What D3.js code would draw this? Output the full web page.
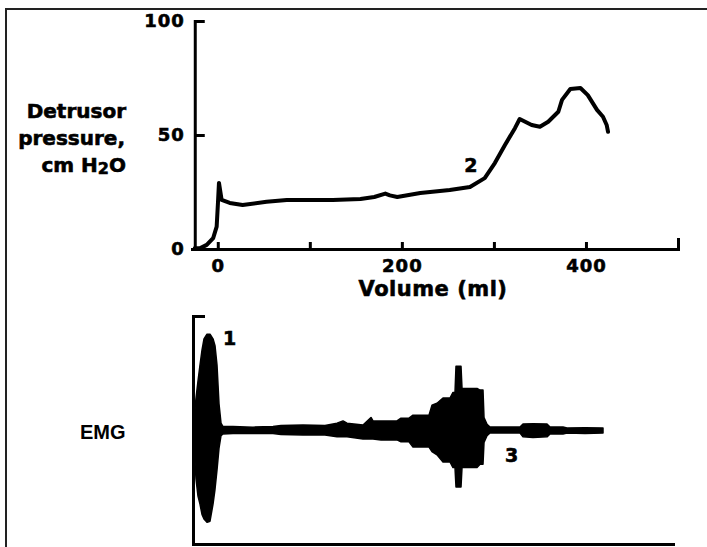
<!DOCTYPE html>
<html>
<head>
<meta charset="utf-8">
<script src="https://cdn.jsdelivr.net/npm/d3@7"></script>
<style>
  body { margin: 0; background: #fff; }
  svg { display: block; }
  .heavy { stroke: #000; stroke-width: 0.6px; }
</style>
</head>
<body>
<svg id="chart"></svg>
<script>
// detrusor pressure trace (volume in ml, pressure in cm H2O)
var volume = [-25, -19, -12, -5, -1.2, 0.2, 1.3, 4.2, 13, 27, 53, 75, 125, 155, 170, 182, 187,
  195, 220, 252, 274, 290, 301, 312, 323, 328, 341, 350, 359, 370, 374, 383, 394, 402, 412,
  418.5, 422.5, 424];
var pressure = [0.3, 0.4, 1.8, 4.8, 9.8, 20.2, 29, 21.5, 20.2, 19.3, 20.7, 21.5, 21.5, 21.9, 22.8, 24.3, 23.5,
  22.8, 24.6, 25.9, 27.2, 31.1, 37.7, 45.6, 53.1, 57, 54.4, 53.6, 55.8, 60.2, 65.4, 70.2, 70.6, 67.5, 61,
  58, 54.4, 51.4];
var xTicks = [0, 100, 200, 300, 400, 500];
var xLabels = [0, 200, 400];
var yTicks = [0, 50, 100];

// EMG envelope (time in s, upper and lower amplitude)
var emgTime = [0, 0.5, 1.5, 2.5, 3.5, 4.5, 5.5, 7, 8.5, 10, 11, 12, 13, 14, 15, 20, 30, 40, 44, 55, 66,
  72, 75, 77, 85, 89, 90, 94, 102, 104, 108, 110, 118, 119.5, 122, 125, 128.5, 130, 131, 131.5, 134,
  134.5, 142, 143.5, 145, 145.5, 147, 148.5, 163.5, 165, 170, 177, 178.5, 185, 187, 196, 205];
var emgUpper = [3, 8.7, 28, 43, 57, 70, 80, 84, 84, 80, 74, 57, 23, 6, 3, 3, 2.5, 3, 4, 4.3, 4,
  6, 8, 6, 4.3, 11, 8, 8, 8, 10.4, 10.4, 13, 13, 21.7, 23.5, 28, 28, 33, 33, 56, 56,
  36.5, 36.5, 35, 35, 11, 5, 2.6, 2.6, 5.2, 5.5, 5.2, 2.6, 2.6, 1.7, 2, 1.7];
var emgLower = [-3, -13, -43, -58, -65, -74, -78, -81, -80, -65, -52, -35, -16, -5, -3.5, -3, -3, -3, -4, -4.3, -4.3,
  -6, -6, -6, -7.8, -8, -8, -8.7, -8.7, -10.4, -10.4, -15, -15, -19, -21.7, -28, -28, -33, -33, -50, -50,
  -33, -33, -30, -30, -11, -5, -2.6, -2.6, -6, -6.5, -6, -3.5, -3.5, -2.6, -3, -2.6];

var width = 707, height = 547;
var ink = "#000";
var numFont = "DejaVu Sans";

var svg = d3.select("#chart").attr("width", width).attr("height", height);

// frame (only top and left edges fall inside the picture)
svg.append("rect")
  .attr("x", 6).attr("y", 9)
  .attr("width", 720).attr("height", 560)
  .attr("fill", "none").attr("stroke", "#222").attr("stroke-width", 2);

// ---------- top panel ----------
var x = d3.scaleLinear().domain([-28, 500]).range([192, 678]);
var y = d3.scaleLinear().domain([0, 100]).range([249, 21]);

function styleAxis(g) {
  g.attr("font-family", numFont).attr("font-size", 18).attr("font-weight", "bold");
  g.select(".domain").attr("stroke", ink).attr("stroke-width", 3).attr("stroke-linecap", "square");
  g.selectAll(".tick line").attr("stroke", ink).attr("stroke-width", 3);
  g.selectAll(".tick text").attr("fill", ink).attr("letter-spacing", 1).attr("class", "heavy");
}

var xAxis = svg.append("g")
  .attr("transform", "translate(0," + y(0) + ")")
  .call(d3.axisBottom(x).tickValues(xTicks).tickSize(-7).tickSizeOuter(0).tickPadding(10)
    .tickFormat(function (d) { return xLabels.includes(d) ? d : ""; }))
  .call(styleAxis);
xAxis.selectAll(".tick").filter(function (d) { return d === 500; })
  .select("line").attr("y1", 2).attr("y2", -11);

svg.append("g")
  .attr("transform", "translate(" + x(-25) + ",0)")
  .call(d3.axisLeft(y).tickValues(yTicks).tickSize(-10).tickSizeOuter(0).tickPadding(10))
  .call(styleAxis);

var line = d3.line()
  .x(function (d) { return x(d[0]); })
  .y(function (d) { return y(d[1]); });

svg.append("path")
  .datum(d3.zip(volume, pressure))
  .attr("d", line)
  .attr("fill", "none")
  .attr("stroke", ink)
  .attr("stroke-width", 4)
  .attr("stroke-linejoin", "round")
  .attr("stroke-linecap", "round");

// y title
var yTitle = svg.append("text")
  .attr("class", "heavy")
  .attr("font-family", numFont).attr("font-size", 20).attr("font-weight", "bold")
  .attr("text-anchor", "end").attr("fill", ink);
yTitle.append("tspan").attr("x", 126).attr("y", 118).text("Detrusor");
yTitle.append("tspan").attr("x", 125).attr("y", 145).text("pressure,");
yTitle.append("tspan").attr("x", 126).attr("y", 172).text("cm H");
yTitle.append("tspan").attr("font-size", 16).attr("dy", 2).text("2");
yTitle.append("tspan").attr("dy", -2).text("O");

svg.append("text")
  .attr("class", "heavy")
  .attr("x", 433).attr("y", 296)
  .attr("text-anchor", "middle")
  .attr("font-family", numFont).attr("font-size", 21).attr("font-weight", "bold")
  .attr("letter-spacing", 0.5)
  .attr("fill", ink)
  .text("Volume (ml)");

svg.append("text")
  .attr("class", "heavy")
  .attr("x", x(275)).attr("y", y(33.7))
  .attr("text-anchor", "middle")
  .attr("font-family", numFont).attr("font-size", 19).attr("font-weight", "bold")
  .attr("fill", ink)
  .text("2");

// ---------- EMG panel ----------
var ex = d3.scaleLinear().domain([0, 240]).range([193, 673]);
var ey = d3.scaleLinear().domain([-100, 100]).range([544, 316]);

svg.append("g")
  .attr("transform", "translate(" + ex(0) + ",0)")
  .call(d3.axisLeft(ey).tickValues([100]).tickSize(-12).tickSizeOuter(0).tickFormat(""))
  .call(styleAxis);

svg.append("g")
  .attr("transform", "translate(0," + ey(-100) + ")")
  .call(d3.axisBottom(ex).tickValues([]).tickSizeOuter(0))
  .call(styleAxis);

var area = d3.area()
  .x(function (d) { return ex(d[0]); })
  .y0(function (d) { return ey(d[2]); })
  .y1(function (d) { return ey(d[1]); });

svg.append("path")
  .datum(d3.zip(emgTime, emgUpper, emgLower))
  .attr("d", area)
  .attr("fill", ink)
  .attr("stroke", ink)
  .attr("stroke-width", 1.5)
  .attr("stroke-linejoin", "round");

svg.append("text")
  .attr("x", 80).attr("y", 439)
  .attr("font-family", "Liberation Sans").attr("font-size", 20).attr("font-weight", "bold")
  .attr("fill", ink)
  .text("EMG");

svg.append("text")
  .attr("class", "heavy")
  .attr("x", ex(15)).attr("y", ey(75))
  .attr("font-family", numFont).attr("font-size", 19).attr("font-weight", "bold")
  .attr("fill", ink)
  .text("1");

svg.append("text")
  .attr("class", "heavy")
  .attr("x", ex(159.3)).attr("y", ey(-28))
  .attr("text-anchor", "middle")
  .attr("font-family", numFont).attr("font-size", 19).attr("font-weight", "bold")
  .attr("fill", ink)
  .text("3");
</script>
</body>
</html>
